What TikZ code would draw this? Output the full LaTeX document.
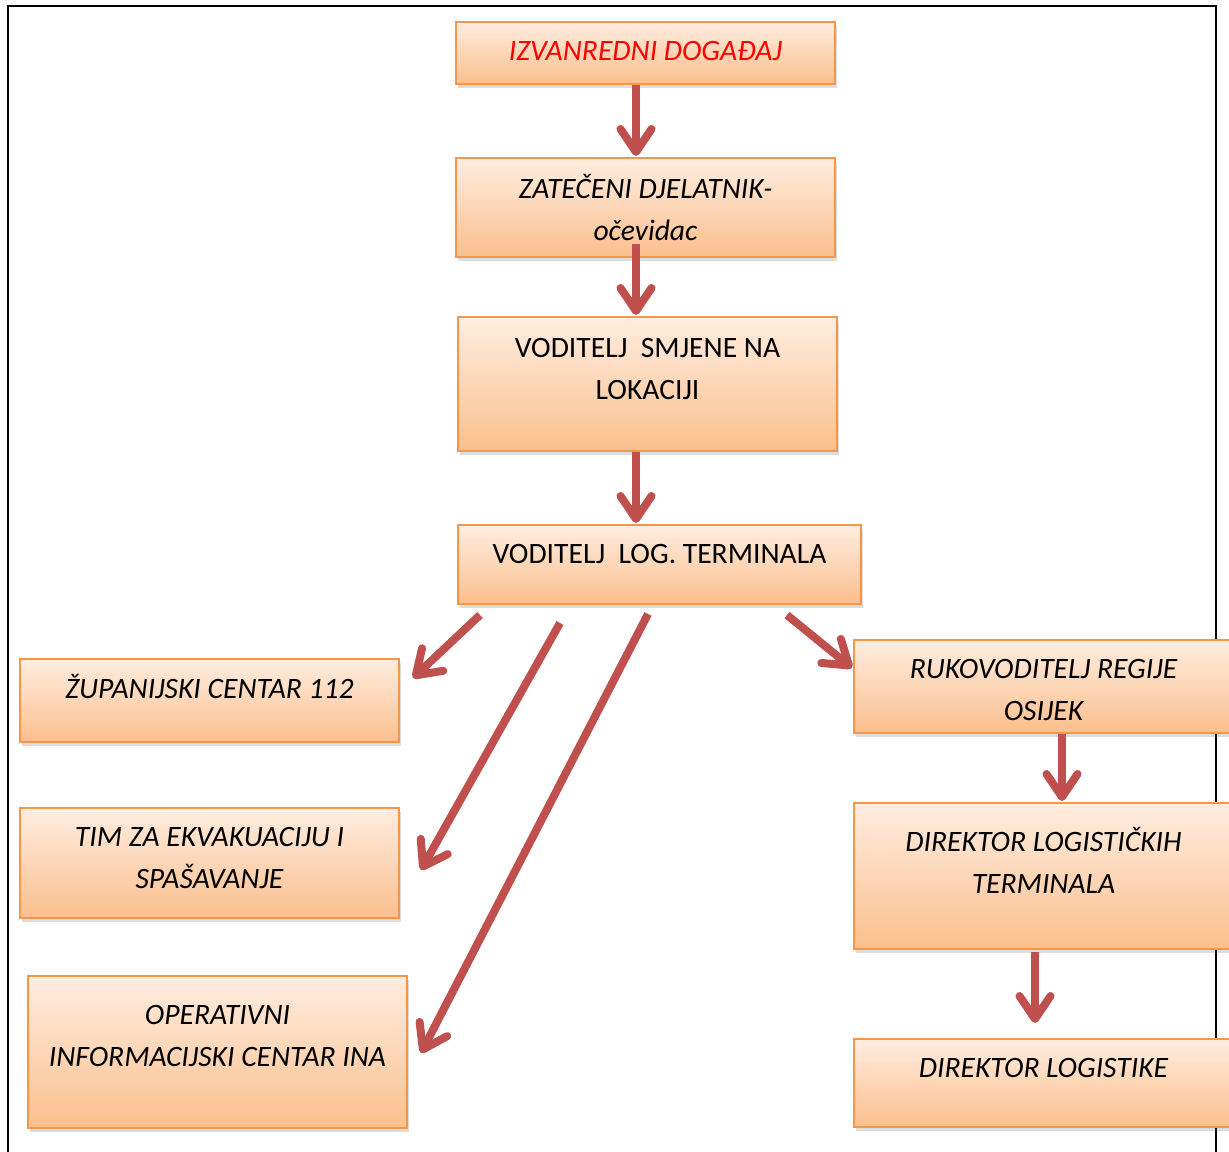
\documentclass[tikz,border=0pt]{standalone}
\usepackage{fontspec}
\setmainfont{Carlito}
\usepackage{tikz}
\usetikzlibrary{arrows.meta, positioning, calc, shadows}
\definecolor{BoxEdge}{RGB}{247,150,70}
\definecolor{BoxTop}{RGB}{255,237,224}
\definecolor{BoxBottom}{RGB}{251,191,141}
\definecolor{ArrowRed}{RGB}{192,80,77}
\definecolor{EventRed}{RGB}{255,0,0}

\begin{document}
\begin{tikzpicture}[x=0.5pt,y=-0.5pt,
        box/.style={rectangle,draw=BoxEdge,line width=1pt,
                    top color=BoxTop,bottom color=BoxBottom,
                    minimum width=189.5pt,inner sep=0pt,
                    drop shadow={shadow xshift=1.2pt,shadow yshift=-2pt,
                                 opacity=0.22,fill=black!60}},
        txt/.style={font=\fontsize{14.8}{21}\selectfont\itshape,align=center,inner sep=0pt},
        flow/.style={draw=ArrowRed,line width=4pt,
                     -{Straight Barb[length=11.5pt,width=15.5pt,round]}}
      ]
        \clip (0,0) rectangle (1229,1151);
        \fill[white] (0,0) rectangle (1229,1151);
        % outer frame
        \draw[line width=1.2pt] (8,1160) -- (8,6) -- (1216,6) -- (1216,1160);
        % boxes
        \node[box,minimum height=31pt] (b1) at (645.5,53) {};
        \node[box,minimum height=49.5pt] (b2) at (645.5,207.5) {};
        \node[box,minimum height=67pt] (b3) at (647.5,384) {};
        \node[box,minimum width=201.5pt,minimum height=39.5pt] (b4) at (659.5,564.5) {};
        \node[box,minimum height=41.5pt] (b5) at (209.5,700.5) {};
        \node[box,minimum height=55pt] (b6) at (209.5,863) {};
        \node[box,minimum height=76pt] (b7) at (217.5,1052) {};
        \node[box,minimum height=46.5pt] (b8) at (1043.5,686.5) {};
        \node[box,minimum height=73pt] (b9) at (1043.5,876) {};
        \node[box,minimum height=44pt] (b10) at (1043.5,1083) {};
        % labels
        \node[txt,text=EventRed] (t1) at ($(b1.center)+(0,-2)$) {IZVANREDNI DOGAĐAJ};
        \node[txt] (t2) at ($(b2.center)+(0,-0.5)$) {ZATEČENI DJELATNIK-\\očevidac};
        \node[txt,font=\fontsize{14.8}{21}\selectfont] (t3) at ($(b3.center)+(0,-15.5)$) {VODITELJ~~SMJENE NA\\LOKACIJI};
        \node[txt,font=\fontsize{14.8}{21}\selectfont] (t4) at ($(b4.center)+(0,-10.5)$) {VODITELJ~~LOG. TERMINALA};
        \node[txt] (t5) at ($(b5.center)+(0,-14.5)$) {ŽUPANIJSKI CENTAR 112};
        \node[txt] (t6) at ($(b6.center)+(0,-5)$) {TIM ZA EKVAKUACIJU I\\SPAŠAVANJE};
        \node[txt] (t7) at ($(b7.center)+(0,-16)$) {OPERATIVNI\\INFORMACIJSKI CENTAR INA};
        \node[txt] (t8) at ($(b8.center)+(0,3)$) {RUKOVODITELJ REGIJE\\OSIJEK};
        \node[txt] (t9) at ($(b9.center)+(0,-16)$) {DIREKTOR LOGISTIČKIH\\TERMINALA};
        \node[txt] (t10) at ($(b10.center)+(0,-15)$) {DIREKTOR LOGISTIKE};
        % arrows
        \draw[flow] ($(b1.south)+(-9.5,0)$) -- ($(b2.north)+(-9.5,-1)$);
        \draw[flow] ($(b2.south)+(-9.5,-14)$) -- ($(b3.north)+(-11.5,-1)$);
        \draw[flow] ($(b3.south)+(-11.5,0)$) -- ($(b4.north)+(-23.5,-1)$);
        \draw[flow] ($(b4.south)+(-179.5,10)$) -- ($(b5.east)+(13,-22.5)$);
        \draw[flow] ($(b4.south)+(-99.5,18)$) -- ($(b6.east)+(21,7)$);
        \draw[flow] ($(b4.south)+(-11.5,9)$) -- ($(b7.east)+(13,1)$);
        \draw[flow] ($(b4.south)+(127.5,10)$) -- ($(b8.west)+(-1,-18.5)$);
        \draw[flow] ($(b8.south)+(18.5,0)$) -- ($(b9.north)+(18.5,-1)$);
        \draw[flow] ($(b9.south)+(-8.5,2)$) -- ($(b10.north)+(-8.5,-15)$);
      \end{tikzpicture}
\end{document}
